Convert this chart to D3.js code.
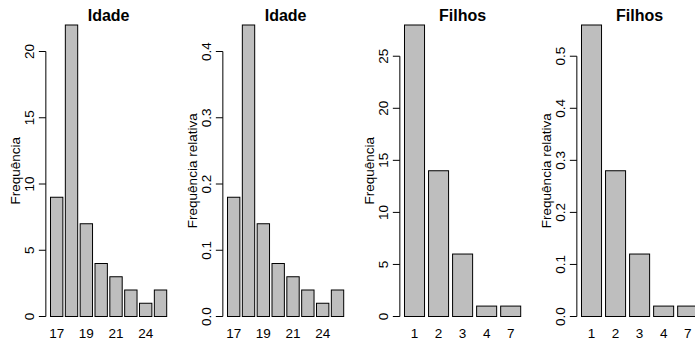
<!DOCTYPE html>
<html>
<head>
<meta charset="utf-8">
<script src="https://cdn.jsdelivr.net/npm/d3@7"></script>
<style>
  body { margin: 0; background: #fff; }
  svg { display: block; font-family: "Liberation Sans", Arial, Helvetica, sans-serif; }
</style>
</head>
<body>
<div id="app"></div>
<script>
var idadeCats = ["17", "18", "19", "20", "21", "22", "24", "25"];
var idadeFreq = [9, 22, 7, 4, 3, 2, 1, 2];
var idadeRel = [0.18, 0.44, 0.14, 0.08, 0.06, 0.04, 0.02, 0.04];
var filhosCats = ["1", "2", "3", "4", "7"];
var filhosFreq = [28, 14, 6, 1, 1];
var filhosRel = [0.56, 0.28, 0.12, 0.02, 0.02];

var ticksIdadeFreq = [0, 5, 10, 15, 20];
var ticksIdadeRel = [0, 0.1, 0.2, 0.3, 0.4];
var ticksFilhosFreq = [0, 5, 10, 15, 20, 25];
var ticksFilhosRel = [0, 0.1, 0.2, 0.3, 0.4, 0.5];

var panels = [
  { title: "Idade", ylab: "Frequência", cats: idadeCats, values: idadeFreq, ticks: ticksIdadeFreq, fmt: d3.format("d") },
  { title: "Idade", ylab: "Frequência relativa", cats: idadeCats, values: idadeRel, ticks: ticksIdadeRel, fmt: d3.format(".1f") },
  { title: "Filhos", ylab: "Frequência", cats: filhosCats, values: filhosFreq, ticks: ticksFilhosFreq, fmt: d3.format("d") },
  { title: "Filhos", ylab: "Frequência relativa", cats: filhosCats, values: filhosRel, ticks: ticksFilhosRel, fmt: d3.format(".1f") }
];

var width = 695,
  height = 342,
  panelW = 177,
  plotL = 45.85,
  plotR = 171.35,
  plotT = 25,
  plotB = 316.5,
  tickLen = 7,
  fontSize = 13.5

var svg = d3.select("#app")
  .append("svg")
  .attr("width", width)
  .attr("height", height)

panels.forEach(function (p, k) {
  var g = svg.append("g")
    .attr("transform", "translate(" + (k * panelW) + ",0)")

  // barplot coordinates: bars of width 1, space 0.2, 4% padding
  var n = p.values.length
  var x0 = 0.2, x1 = 1.2 * n
  var pad = (x1 - x0) * 0.04
  var x = d3.scaleLinear().domain([x0 - pad, x1 + pad]).range([plotL, plotR])
  var y = d3.scaleLinear().domain([0, d3.max(p.values)]).range([plotB, plotT])

  g.selectAll("rect.bar")
    .data(p.values)
    .enter()
    .append("rect")
    .attr("class", "bar")
    .attr("x", function (d, i) { return x(0.2 + 1.2 * i); })
    .attr("width", function () { return x(1) - x(0); })
    .attr("y", function (d) { return y(d); })
    .attr("height", function (d) { return y(0) - y(d); })
    .attr("fill", "#bebebe")
    .attr("stroke", "#000")
    .attr("stroke-width", 1)

  // y axis, R style: line from first to last tick, labels parallel to axis
  var ax = g.append("g").attr("class", "yaxis")
  ax.append("line")
    .attr("x1", plotL).attr("x2", plotL)
    .attr("y1", y(p.ticks[0])).attr("y2", y(p.ticks[p.ticks.length - 1]))
    .attr("stroke", "#000")
  ax.selectAll("line.tick")
    .data(p.ticks)
    .enter()
    .append("line")
    .attr("class", "tick")
    .attr("x1", plotL - tickLen).attr("x2", plotL)
    .attr("y1", function (d) { return y(d); })
    .attr("y2", function (d) { return y(d); })
    .attr("stroke", "#000")
  ax.selectAll("text")
    .data(p.ticks)
    .enter()
    .append("text")
    .attr("transform", function (d) { return "translate(" + (plotL - 12.35) + "," + y(d) + ") rotate(-90)"; })
    .style("text-anchor", "middle")
    .style("font-size", fontSize + "px")
    .text(function (d) { return p.fmt(d); })

  // x labels under the bars, skipping those that would overlap (like R)
  var lastRight = -Infinity
  var mWidth = null
  p.cats.forEach(function (c, i) {
    var cx = x(0.7 + 1.2 * i)
    var t = g.append("text")
      .attr("x", cx)
      .attr("y", 337.5)
      .style("text-anchor", "middle")
      .style("font-size", fontSize + "px")
      .text(c)
    if (mWidth === null) {
      var m = g.append("text").style("font-size", fontSize + "px").text("m")
      mWidth = m.node().getComputedTextLength()
      m.remove()
    }
    var w = t.node().getComputedTextLength()
    if (cx - w / 2 < lastRight + mWidth) {
      t.remove()
    } else {
      lastRight = cx + w / 2
    }
  })

  // titles
  g.append("text")
    .attr("x", (plotL + plotR) / 2)
    .attr("y", 20.5)
    .style("text-anchor", "middle")
    .style("font-weight", "bold")
    .style("font-size", "16px")
    .text(p.title)

  g.append("text")
    .attr("transform", "translate(19.5," + ((plotT + plotB) / 2) + ") rotate(-90)")
    .style("text-anchor", "middle")
    .style("font-size", fontSize + "px")
    .text(p.ylab)
})
</script>
</body>
</html>
